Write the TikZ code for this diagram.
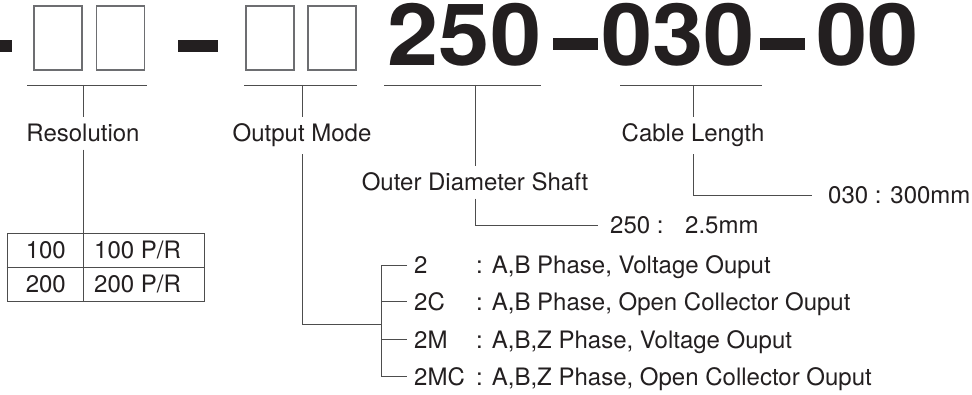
\documentclass[tikz,border=0pt]{standalone}
\usepackage{fontspec}
\setmainfont{TeX Gyre Heros}
\usetikzlibrary{calc,positioning}
\definecolor{OrdInk}{HTML}{231F20}
\definecolor{OrdLead}{HTML}{4D4D4D}
\definecolor{OrdSlot}{HTML}{6D6E71}

\newcommand{\ordbig}{\fontsize{86}{86}\selectfont\bfseries}
\newcommand{\ordsmall}{\fontsize{24}{28}\selectfont}
\newcommand{\ordwide}[1]{\scalebox{1.07}[1]{#1}}

\begin{document}
\begin{tikzpicture}[
  x=1pt,y=-1pt,
  lead/.style={draw=OrdLead,line width=0.9pt},
  slot/.style={draw=OrdSlot,line width=1.1pt,minimum width=48pt,
    minimum height=64pt,inner sep=0pt},
  bignum/.style={font=\ordbig,text=OrdInk,inner sep=0pt,anchor=base west},
  note/.style={font=\ordsmall,text=OrdInk,inner xsep=0pt,inner ysep=7pt,
    anchor=base},
  val/.style={font=\ordsmall,text=OrdInk,inner sep=0pt,anchor=base west},
  tabframe/.style={draw=OrdLead,line width=0.9pt,inner sep=0pt}
]
\useasboundingbox (0,0) rectangle (972,395);

% part number
\fill[OrdInk] (0,40) rectangle (12,52);
\node[slot] (res1) at (58,38) {};
\node[slot] (res2) at (120.5,38) {};
\fill[OrdInk] (178,40) rectangle (218,52);
\node[slot] (mode1) at (270,38) {};
\node[slot] (mode2) at (332,38) {};
\node[bignum] (shaft) at (387.5,66) {\ordwide{250}};
\fill[OrdInk] (553,38) rectangle (598,50);
\node[bignum] (cable) at (601,66) {\ordwide{030}};
\fill[OrdInk] (760,38) rectangle (805,50);
\node[bignum] (tail) at (816,66) {\ordwide{00}};

% underlines
\coordinate (resL) at (27,85);
\coordinate (resR) at (147,85);
\coordinate (modeL) at (244,85);
\coordinate (modeR) at (357,85);
\coordinate (shaftL) at (384,85);
\coordinate (shaftR) at (541,85);
\coordinate (cableL) at (620,85);
\coordinate (cableR) at (762,85);
\draw[lead] (resL) -- (resR);
\draw[lead] (modeL) -- (modeR);
\draw[lead] (shaftL) -- (shaftR);
\draw[lead] (cableL) -- (cableR);

% labels
\node[note] (resolution) at (83,142) {Resolution};
\node[note] (outmode) at (302,142) {Output Mode};
\node[note] (odshaft) at (475,191) {Outer Diameter Shaft};
\node[note] (cablelen) at (693,142) {Cable Length};

% resolution table
\draw[lead] (resolution |- resL) -- (resolution.north);
\node[tabframe,minimum width=197pt,minimum height=68pt] (restab) at (105.5,267) {};
\draw[lead] (restab.west) -- (restab.east);
\draw[lead] (resolution.south) -- (resolution |- restab.south);
\node[val,anchor=base east] (res100) at (66,259) {100};
\node[val] (res100pr) at (94,259) {100 P/R};
\node[val,anchor=base east] (res200) at (66,293) {200};
\node[val] (res200pr) at (94,293) {200 P/R};

% output mode
\draw[lead] (outmode |- modeL) -- (outmode.north);
\coordinate (feed) at (381,324);
\draw[lead] (outmode.south) |- (feed);
\node[val] (code2) at (414,273.6) {2};
\node[val] (code2c) at (414,310.6) {2C};
\node[val] (code2m) at (414,348.6) {2M};
\node[val] (code2mc) at (414,385.6) {2MC};
\node[val] (desc2) at (476,273.6) {: A,B Phase, Voltage Ouput};
\node[val] (desc2c) at (476,310.6) {: A,B Phase, Open Collector Ouput};
\node[val] (desc2m) at (476,348.6) {: A,B,Z Phase, Voltage Ouput};
\node[val] (desc2mc) at (476,385.6) {: A,B,Z Phase, Open Collector Ouput};
\draw[lead] ([xshift=-7pt]code2.west) -| (feed |- code2mc.west)
  -- ([xshift=-7pt]code2mc.west);
\draw[lead] (feed |- code2c.west) -- ([xshift=-7pt]code2c.west);
\draw[lead] (feed |- code2m.west) -- ([xshift=-7pt]code2m.west);

% shaft
\draw[lead] (odshaft |- shaftL) -- (odshaft.north);
\node[val] (shaftval) at (610,233.6) {250 :\hspace{0.9em}2.5mm};
\draw[lead,shorten >=12pt] (odshaft.south) |- (shaftval.west);

% cable
\draw[lead] (cablelen |- cableL) -- (cablelen.north);
\node[val] (cableval) at (828,203.6) {030 : 300mm};
\draw[lead,shorten >=16pt] (cablelen.south) |- (cableval.west);

\end{tikzpicture}
\end{document}
